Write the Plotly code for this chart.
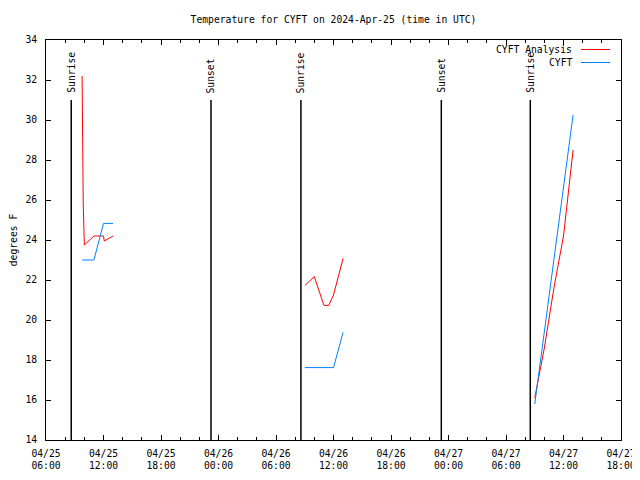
import plotly.graph_objects as go

# ---- data ----
analysis_times = [
    "2024-04-25 09:46", "2024-04-25 09:47", "2024-04-25 09:53", "2024-04-25 10:00",
    "2024-04-25 11:00", "2024-04-25 12:00", "2024-04-25 12:05", "2024-04-25 13:00",
    None,
    "2024-04-26 09:00", "2024-04-26 10:00", "2024-04-26 11:00", "2024-04-26 11:30",
    "2024-04-26 12:00", "2024-04-26 13:00",
    None,
    "2024-04-27 09:00", "2024-04-27 10:00", "2024-04-27 11:00", "2024-04-27 12:00",
    "2024-04-27 13:00",
]
analysis_temps = [
    32.2, 30.0, 25.8, 23.75,
    24.2, 24.2, 23.95, 24.2,
    None,
    21.72, 22.17, 20.73, 20.73,
    21.25, 23.08,
    None,
    16.1, 18.6, 21.6, 24.2,
    28.5,
]

obs_times = [
    "2024-04-25 09:47", "2024-04-25 11:00", "2024-04-25 12:00", "2024-04-25 13:00",
    None,
    "2024-04-26 09:00", "2024-04-26 12:00", "2024-04-26 13:00",
    None,
    "2024-04-27 09:00", "2024-04-27 10:00", "2024-04-27 11:00", "2024-04-27 12:00",
    "2024-04-27 13:00",
]
obs_temps = [
    23.0, 23.0, 24.83, 24.83,
    None,
    17.62, 17.62, 19.38,
    None,
    15.8, 19.4, 23.0, 26.6,
    30.25,
]

sun_event_times = ["2024-04-25 08:38", "2024-04-25 23:13", "2024-04-26 08:36",
                   "2024-04-26 23:15", "2024-04-27 08:32"]
sun_event_labels = ["Sunrise", "Sunset", "Sunrise", "Sunset", "Sunrise"]
sun_line_top = 31
y_min, y_max = 14, 34

x_tick_vals = ["2024-04-25 06:00", "2024-04-25 12:00", "2024-04-25 18:00",
               "2024-04-26 00:00", "2024-04-26 06:00", "2024-04-26 12:00",
               "2024-04-26 18:00", "2024-04-27 00:00", "2024-04-27 06:00",
               "2024-04-27 12:00", "2024-04-27 18:00"]
x_tick_text = ["04/25<br>06:00", "04/25<br>12:00", "04/25<br>18:00",
               "04/26<br>00:00", "04/26<br>06:00", "04/26<br>12:00",
               "04/26<br>18:00", "04/27<br>00:00", "04/27<br>06:00",
               "04/27<br>12:00", "04/27<br>18:00"]

series_names = ["CYFT Analysis", "CYFT"]
series_colors = ["#ff0000", "#0080ff"]

FONT = dict(family="DejaVu Sans Mono", size=9.7, color="black")

# the page body has an 8px default margin; compensate so the plot lands
# where it does in the 640x480 reference
BODY = 8
W, H = 640 - BODY, 480 - BODY

fig = go.Figure()
fig.add_trace(go.Scatter(x=analysis_times, y=analysis_temps, mode="lines",
                         line=dict(color=series_colors[0], width=1),
                         name=series_names[0], showlegend=False, connectgaps=False))
fig.add_trace(go.Scatter(x=obs_times, y=obs_temps, mode="lines",
                         line=dict(color=series_colors[1], width=1),
                         name=series_names[1], showlegend=False, connectgaps=False))

shapes = []
annotations = []
for t, lab in zip(sun_event_times, sun_event_labels):
    shapes.append(dict(type="line", xref="x", yref="y", x0=t, x1=t,
                       y0=y_min, y1=sun_line_top,
                       line=dict(color="black", width=1.5)))
    annotations.append(dict(x=t, y=sun_line_top, xref="x", yref="y", text=lab,
                            textangle=-90, showarrow=False, yanchor="bottom",
                            xanchor="center", yshift=5, font=FONT))

# gnuplot-style key: text then line sample, top right inside
for i, (nm, col) in enumerate(zip(series_names, series_colors)):
    ypix = 49.5 + i * 13
    yp = 1 - (ypix - 40) / 400
    annotations.append(dict(x=(574 - 46) / 575, y=yp, xref="paper", yref="paper",
                            text=nm, showarrow=False, xanchor="right",
                            yanchor="middle", font=FONT))
    shapes.append(dict(type="line", xref="paper", yref="paper",
                       x0=(581 - 46) / 575, x1=(610 - 46) / 575, y0=yp, y1=yp,
                       line=dict(color=col, width=1)))

fig.update_layout(
    width=W, height=H,
    margin=dict(l=46 - BODY, r=19, t=40 - BODY, b=40, autoexpand=False),
    paper_bgcolor="white", plot_bgcolor="white",
    font=FONT,
    title=dict(text="Temperature for CYFT on 2024-Apr-25 (time in UTC)",
               x=0.5, xref="paper", y=1 - (20 - BODY) / H, yref="container",
               yanchor="middle", xanchor="center", font=FONT),
    shapes=shapes, annotations=annotations,
    showlegend=False,
)
fig.update_xaxes(
    type="date", range=["2024-04-25 06:00", "2024-04-27 18:00"],
    tickvals=x_tick_vals, ticktext=x_tick_text, automargin=False,
    ticks="inside", ticklen=5, tickcolor="black", tickwidth=1,
    showline=True, linecolor="black", linewidth=1, mirror="allticks",
    showgrid=False, zeroline=False, tickfont=FONT, ticklabelstandoff=4,
    minor=dict(dtick=2 * 3600 * 1000, tick0="2024-04-25 06:00", ticks="inside",
               ticklen=3, tickcolor="black", showgrid=False),
)
fig.update_yaxes(
    range=[y_min, y_max], dtick=2, tick0=14, automargin=False,
    ticks="inside", ticklen=5, tickcolor="black", tickwidth=1,
    showline=True, linecolor="black", linewidth=1, mirror="allticks",
    showgrid=False, zeroline=False, tickfont=FONT, ticklabelstandoff=6,
    title=dict(text="degrees F", font=FONT, standoff=9),
)

fig.write_html("out.html")
